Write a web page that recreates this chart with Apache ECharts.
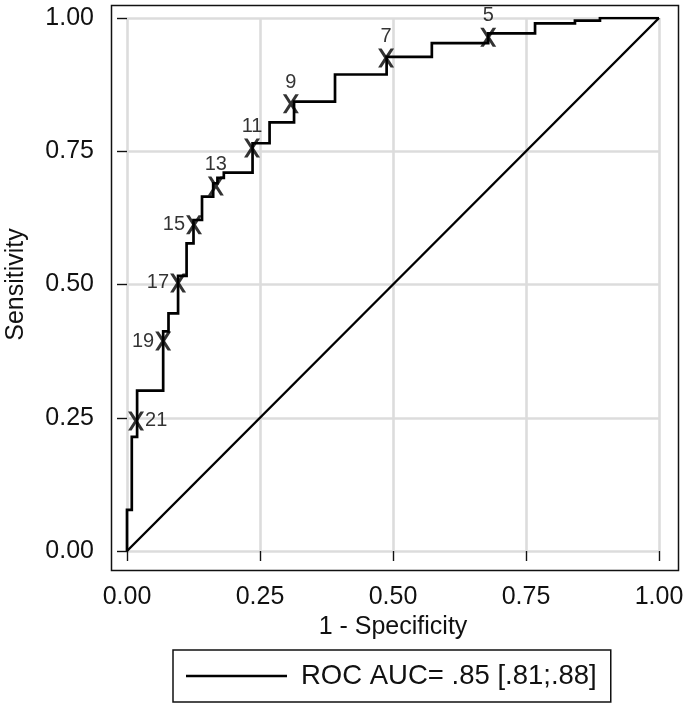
<!DOCTYPE html>
<html>
<head>
<meta charset="utf-8">
<script src="https://cdn.jsdelivr.net/npm/echarts@6/dist/echarts.min.js"></script>
<style>
  html, body { margin: 0; padding: 0; background: #fff; }
  #chart { width: 685px; height: 706px; }
</style>
</head>
<body>
<div id="chart"></div>
<script>
// ROC step curve vertices (1 - specificity, sensitivity)
const fpr = [0, 0, 0.009, 0.009, 0.019, 0.019, 0.068, 0.068, 0.078, 0.078, 0.096, 0.096,
  0.112, 0.112, 0.125, 0.125, 0.141, 0.141, 0.162, 0.162, 0.170, 0.170, 0.182, 0.182,
  0.236, 0.236, 0.268, 0.268, 0.314, 0.314, 0.391, 0.391, 0.488, 0.488, 0.573, 0.573,
  0.679, 0.679, 0.767, 0.767, 0.842, 0.842, 0.889, 0.889, 1];
const tpr = [0, 0.077, 0.077, 0.214, 0.214, 0.301, 0.301, 0.412, 0.412, 0.446, 0.446, 0.516,
  0.516, 0.577, 0.577, 0.621, 0.621, 0.665, 0.665, 0.690, 0.690, 0.700, 0.700, 0.710,
  0.710, 0.765, 0.765, 0.804, 0.804, 0.843, 0.843, 0.894, 0.894, 0.927, 0.927, 0.953,
  0.953, 0.971, 0.971, 0.990, 0.990, 0.995, 0.995, 1, 1];

// labelled cut points
const cutNames = ['21', '19', '17', '15', '13', '11', '9', '7', '5'];
const cutX = [0.017, 0.068, 0.096, 0.126, 0.167, 0.235, 0.308, 0.487, 0.679];
const cutY = [0.244, 0.394, 0.503, 0.612, 0.685, 0.756, 0.839, 0.925, 0.964];

const refX = [0, 1];
const refY = [0, 1];

const tickValues = [0, 0.25, 0.5, 0.75, 1];
const aucLabel = 'ROC AUC= .85 [.81;.88]';

const FONT = '"Liberation Sans", Arial, sans-serif';
const TXT = '#111';

// where each cut label sits around its marker
const labelSide = name => name === '21' ? 'right' : (['19', '17', '15'].includes(name) ? 'left' : 'top');

const chart = echarts.init(document.getElementById('chart'), null, { renderer: 'canvas' });

const axisCommon = {
  type: 'value',
  min: tickValues[0],
  max: tickValues[tickValues.length - 1],
  interval: 0.25,
  axisLine: { show: false },
  axisTick: { show: true, length: 10, lineStyle: { color: TXT, width: 1.4 } },
  axisLabel: { color: TXT, fontSize: 25, fontFamily: FONT, formatter: v => v.toFixed(2) },
  splitLine: { show: true, lineStyle: { color: '#dcdcdc', width: 2.6 } },
  nameLocation: 'middle',
  nameTextStyle: { color: TXT, fontSize: 25, fontFamily: FONT }
};

chart.setOption({
  animation: false,
  backgroundColor: '#fff',
  grid: { left: 127, right: 26, top: 18, bottom: 155, containLabel: false, outerBoundsMode: 'none' },
  xAxis: Object.assign({}, axisCommon, {
    offset: 17,
    name: '1 - Specificity',
    nameGap: 44,
    axisLabel: Object.assign({}, axisCommon.axisLabel, { margin: 17 })
  }),
  yAxis: Object.assign({}, axisCommon, {
    offset: 18,
    name: 'Sensitivity',
    nameGap: 80,
    axisLabel: Object.assign({}, axisCommon.axisLabel, { margin: 15 })
  }),
  legend: {
    data: [aucLabel],
    left: 173,
    top: 650,
    orient: 'horizontal',
    icon: 'rect',
    itemWidth: 101,
    itemHeight: 2.6,
    itemStyle: { color: '#000' },
    padding: [12, 14, 12, 13],
    borderColor: '#111',
    borderWidth: 1.5,
    borderRadius: 0,
    textStyle: { color: TXT, fontSize: 27.5, fontFamily: FONT, padding: [0, 0, 0, 9] },
    selectedMode: false
  },
  graphic: [{
    type: 'rect',
    left: 109,
    top: 3,
    shape: { width: 567, height: 565 },
    style: { fill: 'none', stroke: '#111', lineWidth: 1.5 },
    z: 0
  }],
  series: [
    {
      name: aucLabel,
      type: 'line',
      data: fpr.map((x, i) => [x, tpr[i]]),
      symbol: 'none',
      lineStyle: { color: '#000', width: 2.7, join: 'miter' },
      itemStyle: { color: '#000' },
      z: 3
    },
    {
      name: 'reference',
      type: 'line',
      data: refX.map((x, i) => [x, refY[i]]),
      symbol: 'none',
      lineStyle: { color: '#000', width: 2.4 },
      z: 2
    },
    {
      name: 'cutpoints',
      type: 'scatter',
      symbol: 'path://M0,0 L22,0 L50,36 L78,0 L100,0 L62,50 L100,100 L78,100 L50,64 L22,100 L0,100 L38,50 Z',
      symbolSize: [16, 19],
      itemStyle: { color: '#000' },
      z: 4,
      data: cutNames.map((n, i) => ({
        name: n,
        value: [cutX[i], cutY[i]],
        label: {
          show: true,
          position: labelSide(n),
          distance: labelSide(n) === 'top' ? 2 : 1,
          formatter: '{b}',
          color: '#000',
          fontSize: 20,
          fontFamily: FONT
        }
      }))
    }
  ]
});
</script>
</body>
</html>
